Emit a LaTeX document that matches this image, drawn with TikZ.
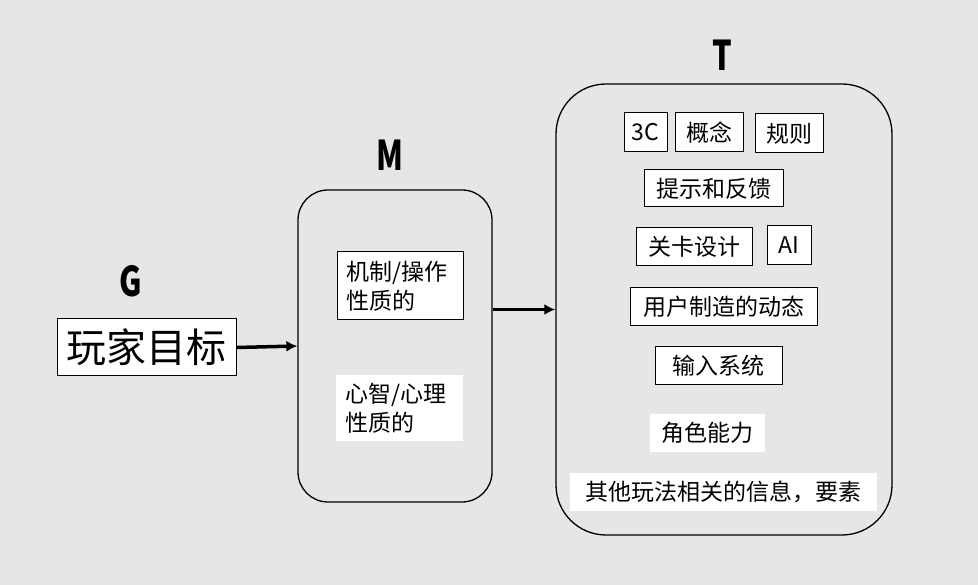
\documentclass[tikz,border=0pt]{standalone}
\usepackage{fontspec}
\usetikzlibrary{arrows.meta}
\newfontfamily\cjk{Noto Sans CJK SC}
\newfontfamily\narrowfont[FakeStretch=0.75]{Noto Sans CJK SC}
\definecolor{bg}{HTML}{E6E6E6}
\tikzset{
  item/.style={draw, fill=white, line width=1pt, inner sep=0pt, minimum height=38pt, font=\cjk\fontsize{23}{29}\selectfont},
  plain/.style={item, draw=none},
  frame/.style={draw, line width=1.3pt, inner sep=0pt},
  letter/.style={font=\narrowfont\bfseries\fontsize{41}{41}\selectfont},
  arr/.style={line width=3.5pt, -{Latex[length=11pt,width=11pt]}}
}
\begin{document}
\begin{tikzpicture}[x=1pt, y=-1pt]
    \fill[bg] (0,0) rectangle (978,585);
    \useasboundingbox (0,0) rectangle (978,585);

    % goal
    \node[letter] (G) at (131,281) {G};
    \node[item, minimum width=179pt, minimum height=57pt, font=\cjk\fontsize{40}{44}\selectfont] (goal) at (146.5,347.5) {玩家目标};

    % mechanics
    \node[frame, rounded corners=30pt, minimum width=194pt, minimum height=312pt] (mbox) at (395,346) {};
    \node[letter] (M) at (390,155) {M};
    \node[item, inner xsep=9pt, text width=108pt, minimum height=68pt, align=left] (mech) at (400,286) {机制/操作\\性质的};
    \node[plain, inner xsep=9pt, text width=109pt, minimum height=66pt, align=left] (mind) at (399.5,408) {心智/心理\\性质的};

    % tactics
    \node[frame, rounded corners=50pt, minimum width=336pt, minimum height=451pt] (tbox) at (724,309.5) {};
    \node[letter] (T) at (722,55) {T};
    \node[item, minimum width=43pt, minimum height=39pt] (threec) at (645.5,132.5) {3C};
    \node[item, minimum width=68pt, minimum height=39pt] (concept) at (709,132.5) {概念};
    \node[item, minimum width=68pt, minimum height=39pt] (rules) at (789,133.5) {规则};
    \node[item, minimum width=139pt, minimum height=37pt] (feedback) at (713.5,188.5) {提示和反馈};
    \node[item, minimum width=116pt] (level) at (694,247) {关卡设计};
    \node[item, minimum width=44pt, minimum height=39pt] (ai) at (789,245.5) {AI};
    \node[item, minimum width=187pt] (dynamics) at (723.5,307) {用户制造的动态};
    \node[item, minimum width=127pt] (input) at (718.5,366) {输入系统};
    \node[plain, minimum width=115pt] (ability) at (707.5,433) {角色能力};
    \node[plain, minimum width=307pt] (other) at (723.5,492) {其他玩法相关的信息，要素};

    \draw[arr] (goal.east) -- (mbox.west);
    \draw[arr] (mbox.east |- tbox.west) -- (tbox.west);
\end{tikzpicture}
\end{document}
